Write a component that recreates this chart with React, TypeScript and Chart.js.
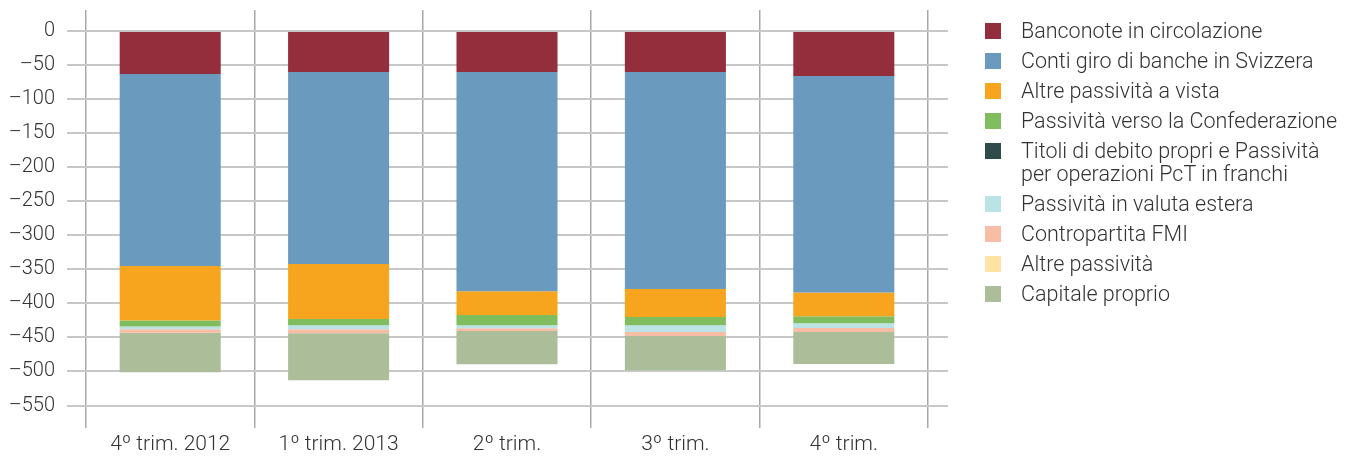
import React, { useEffect, useRef } from "react";
import { Chart, registerables } from "chart.js";

Chart.register(...registerables);

const categories = ["4º trim. 2012", "1º trim. 2013", "2º trim.", "3º trim.", "4º trim."];

const banconote = [-63, -60, -60, -60, -66];
const contiGiro = [-282, -282, -322, -319, -318];
const altrePassVista = [-80, -81, -35, -41, -35];
const confederazione = [-9, -9, -15, -12, -10];
const titoliDebito = [0, 0, 0, 0, 0];
const valutaEstera = [-4, -6, -4.5, -10, -7];
const contropartitaFMI = [-5, -6, -4, -6, -6];
const altrePassivita = [0, 0, 0, 0, 0];
const capitaleProprio = [-58, -69, -49, -50, -47];

const yTicks = [0, -50, -100, -150, -200, -250, -300, -350, -400, -450, -500, -550];

const seriesLabels = [
  "Banconote in circolazione",
  "Conti giro di banche in Svizzera",
  "Altre passività a vista",
  "Passività verso la Confederazione",
  "Titoli di debito propri e Passività\nper operazioni PcT in franchi",
  "Passività in valuta estera",
  "Contropartita FMI",
  "Altre passività",
  "Capitale proprio",
];
const seriesData = [
  banconote,
  contiGiro,
  altrePassVista,
  confederazione,
  titoliDebito,
  valutaEstera,
  contropartitaFMI,
  altrePassivita,
  capitaleProprio,
];
const seriesColors = [
  "#952e3c",
  "#6a9abe",
  "#f7a51e",
  "#80bd5e",
  "#2f4b4b",
  "#bbe3e6",
  "#f8bda5",
  "#fde1a5",
  "#abbd99",
];

const FONT = "Roboto, 'Liberation Sans', Arial, sans-serif";

const gridExtension = {
  id: "gridExtension",
  beforeDatasetsDraw(chart: any) {
    const { ctx, chartArea, scales } = chart;
    const y = scales.y;
    ctx.save();
    ctx.strokeStyle = "#c8c8c8";
    ctx.lineWidth = 2;
    for (const v of yTicks) {
      const py = Math.round(y.getPixelForValue(v));
      ctx.beginPath();
      ctx.moveTo(chartArea.right, py);
      ctx.lineTo(chartArea.right + 20, py);
      ctx.stroke();
    }
    ctx.restore();
  },
};

export default function App() {
  const canvasRef = useRef<HTMLCanvasElement | null>(null);

  useEffect(() => {
    const canvas = canvasRef.current;
    if (!canvas) return;
    const chart = new Chart(canvas, {
      type: "bar",
      data: {
        labels: categories,
        datasets: seriesData.map((d, i) => ({
          label: seriesLabels[i],
          data: d,
          backgroundColor: seriesColors[i],
          borderWidth: 0,
          barPercentage: 0.6,
          categoryPercentage: 1,
          stack: "s",
        })),
      },
      options: {
        animation: false,
        responsive: false,
        devicePixelRatio: 1,
        layout: { padding: { left: 0, right: 431, top: 10, bottom: 0 } },
        plugins: {
          legend: { display: false },
          tooltip: { enabled: false },
          title: { display: false },
        },
        scales: {
          x: {
            stacked: true,
            offset: true,
            border: { display: false },
            grid: {
              offset: true,
              drawTicks: false,
              color: "#a8a8a8",
              lineWidth: 1.5,
            },
            ticks: {
              color: "#333333",
              font: { family: FONT, size: 21, weight: "300" as any },
              padding: 4,
            },
            afterFit: (s: any) => {
              s.height = 29;
              s.paddingLeft = 0;
              s.paddingRight = 0;
            },
          },
          y: {
            stacked: true,
            min: -583,
            max: 31,
            border: { display: false },
            grid: {
              color: "#c8c8c8",
              lineWidth: 2,
              drawTicks: true,
              tickLength: 19,
            },
            ticks: {
              color: "#333333",
              font: { family: FONT, size: 20, weight: "300" as any },
              padding: 12,
              callback: (v: any) => (Number(v) === 0 ? "0" : "\u2013" + Math.abs(Number(v))),
            },
            afterBuildTicks: (s: any) => {
              s.ticks = yTicks.map((v) => ({ value: v }));
            },
            afterFit: (s: any) => {
              s.width = 86;
              s.paddingTop = 0;
              s.paddingBottom = 0;
            },
          },
        },
      },
      plugins: [gridExtension],
    });
    return () => chart.destroy();
  }, []);

  return (
    <div style={{ position: "absolute", left: 0, top: 0, width: 1359, height: 457, background: "#fff" }}>
      <canvas ref={canvasRef} width={1359} height={457} style={{ position: "absolute", left: 0, top: 0, width: 1359, height: 457 }} />
      <div style={{ position: "absolute", left: 985, top: 19, fontFamily: FONT, fontWeight: 300, fontSize: 21.5, lineHeight: "23px", color: "#333333" }}>
        {seriesLabels.map((lab, i) => (
          <div key={i} style={{ display: "flex", alignItems: "flex-start", marginBottom: 7 }}>
            <div style={{ width: 16, height: 16, marginTop: 3.5, marginRight: 20, background: seriesColors[i], flex: "0 0 auto" }} />
            <div style={{ whiteSpace: "pre" }}>{lab}</div>
          </div>
        ))}
      </div>
    </div>
  );
}
